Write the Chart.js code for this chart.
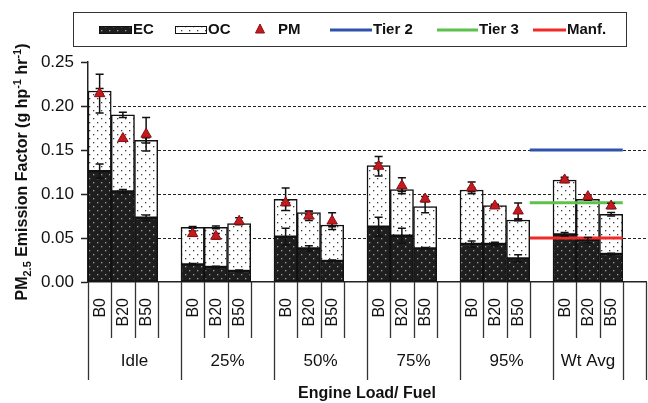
<!DOCTYPE html>
<html>
<head>
<meta charset="utf-8">
<script src="https://cdn.jsdelivr.net/npm/chart.js@4.4.1/dist/chart.umd.min.js"></script>
<style>
  html, body { margin: 0; padding: 0; background: #fff; }
  #wrap { width: 648px; height: 403px; position: relative; }
</style>
</head>
<body>
<div id="wrap"><canvas id="c"></canvas></div>
<script>
// Engine load groups and fuel blends
const groups = ['Idle', '25%', '50%', '75%', '95%', 'Wt Avg'];
const fuels = ['B0', 'B20', 'B50'];

// Emission factors (g hp-1 hr-1), three blends per load group
const ecValues = [0.126, 0.103, 0.073,  0.020, 0.017, 0.0125,  0.0515, 0.0383, 0.0239,
                  0.0629, 0.0526, 0.0383,  0.0432, 0.0432, 0.0269,  0.0542, 0.0477, 0.0318];
const ecErrors = [0.008, 0.002, 0.003,  0.001, 0.001, 0.001,  0.0095, 0.003, 0.001,
                  0.0108, 0.0085, 0.001,  0.0034, 0.002, 0.004,  0.002, 0.003, 0.001];
const ocValues = [0.091, 0.087, 0.088,  0.042, 0.045, 0.054,  0.0425, 0.0405, 0.0409,
                  0.0693, 0.0523, 0.0473,  0.0613, 0.0435, 0.0436,  0.0617, 0.0463, 0.0451];
const ocErrors = [0.003, 0.003, 0.003,  0.001, 0.0015, 0.001,  0.0127, 0.002, 0.002,
                  0.003, 0.002, 0.007,  0.002, 0.001, 0.001,  0.001, 0.001, 0.002];
const pmValues = [0.214, 0.163, 0.168,  0.055, 0.052, 0.069,  0.090, 0.075, 0.0693,
                  0.1315, 0.1094, 0.0943,  0.107, 0.0864, 0.0807,  0.116, 0.097, 0.0864];
const pmErrors = [0.022, 0.0, 0.019,  0.003, 0.003, 0.004,  0.003, 0.005, 0.0095,
                  0.011, 0.009, 0.003,  0.0066, 0.002, 0.009,  0.003, 0.002, 0.003];

// Emission standards shown across the weighted-average group
const standards = [
  { label: 'Tier 2', value: 0.15, color: '#2f52ab' },
  { label: 'Tier 3', value: 0.09, color: '#5cc24c' },
  { label: 'Manf.', value: 0.05, color: '#ef2b27' }
];

const yTicks = [0, 0.05, 0.10, 0.15, 0.20, 0.25];

// Each group takes four category slots: three blends and one empty spacer
const SLOTS = fuels.length + 1;
function spread(arr) {
  const out = [];
  groups.forEach((g, gi) => {
    fuels.forEach((f, fi) => out.push(arr[gi * fuels.length + fi]));
    out.push(null);
  });
  return out;
}
const labels = [];
groups.forEach(() => { fuels.forEach(f => labels.push(f)); labels.push(''); });

// Standards span from the spacer after 95% to the end of the Wt Avg blends
const spanFirst = SLOTS * groups.indexOf('95%') + fuels.length;
const spanLast = SLOTS * groups.indexOf('Wt Avg') + fuels.length - 1;

// Stippled fills
function makePattern(bg, dot) {
  const c = document.createElement('canvas');
  c.width = 8; c.height = 8;
  const g = c.getContext('2d');
  g.fillStyle = bg; g.fillRect(0, 0, 8, 8);
  g.fillStyle = dot;
  g.fillRect(1, 2, 1.3, 1.3);
  g.fillRect(5, 6, 1.3, 1.3);
  return g.createPattern(c, 'repeat');
}
const ecFill = makePattern('#1e1e1e', '#a0a0a0');
const ocFill = makePattern('#ffffff', '#3a3a3a');

const FONT = '"Liberation Sans", Arial, Helvetica, sans-serif';
Chart.defaults.font.family = FONT;
Chart.defaults.color = '#111';

const ecData = spread(ecValues), ecErr = spread(ecErrors);
const ocData = spread(ocValues), ocErr = spread(ocErrors);
const pmData = spread(pmValues), pmErr = spread(pmErrors);

// Dashed horizontal guides behind the bars
const guides = {
  id: 'guides',
  beforeDatasetsDraw(chart) {
    const { ctx, chartArea: a, scales: { y } } = chart;
    ctx.save();
    ctx.strokeStyle = '#222';
    ctx.lineWidth = 1;
    ctx.setLineDash([3, 2]);
    yTicks.forEach(v => {
      if (v <= y.min || v >= y.max) return;
      const py = Math.round(y.getPixelForValue(v)) + 0.5;
      ctx.beginPath(); ctx.moveTo(a.left, py); ctx.lineTo(a.right, py); ctx.stroke();
    });
    ctx.restore();
  }
};

// Standard lines, then error bars for EC, EC+OC total and PM (under the PM markers)
const overlays = {
  id: 'overlays',
  beforeDatasetDraw(chart, args) {
    if (args.meta.type !== 'line') return;
    const { ctx, scales: { x, y } } = chart;
    const slot = x.getPixelForValue(1) - x.getPixelForValue(0);
    ctx.save();
    const x0 = x.getPixelForValue(spanFirst) - slot / 2;
    const x1 = x.getPixelForValue(spanLast) + slot / 2;
    ctx.lineWidth = 3;
    standards.forEach(s => {
      const py = y.getPixelForValue(s.value);
      ctx.strokeStyle = s.color;
      ctx.beginPath(); ctx.moveTo(x0, py); ctx.lineTo(x1, py); ctx.stroke();
    });

    ctx.strokeStyle = '#111';
    ctx.lineWidth = 1.5;
    const draw = (px, v, e) => {
      if (v == null || !e) return;
      const t = y.getPixelForValue(v + e), b = y.getPixelForValue(v - e);
      ctx.beginPath();
      ctx.moveTo(px, t); ctx.lineTo(px, b);
      ctx.moveTo(px - 4, t); ctx.lineTo(px + 4, t);
      ctx.moveTo(px - 4, b); ctx.lineTo(px + 4, b);
      ctx.stroke();
    };
    labels.forEach((l, i) => {
      if (ecData[i] == null) return;
      const px = x.getPixelForValue(i);
      draw(px, ecData[i], ecErr[i]);
      draw(px, ecData[i] + ocData[i], ocErr[i]);
      draw(px, pmData[i], pmErr[i]);
    });
    ctx.restore();
  }
};

// Two-level category axis, axis titles and legend box
const decor = {
  id: 'decor',
  afterDraw(chart) {
    const { ctx, chartArea: a, scales: { x } } = chart;
    const slot = x.getPixelForValue(1) - x.getPixelForValue(0);
    const last = groups.length - 1;
    // slot range covered by each group label (the final group closes after its blends)
    const spans = groups.map((g, gi) => [gi * SLOTS, gi * SLOTS + (gi === last ? fuels.length : SLOTS)]);
    const longAt = new Set([labels.length]);
    spans.forEach(([s, e]) => { longAt.add(s); longAt.add(e); });
    ctx.save();
    // separators
    ctx.strokeStyle = '#333';
    ctx.lineWidth = 1.3;
    for (let i = 0; i <= labels.length; i++) {
      const bx = Math.round(a.left + i * slot) + 0.5;
      const len = longAt.has(i) ? 98 : 56;
      ctx.beginPath(); ctx.moveTo(bx, a.bottom); ctx.lineTo(bx, a.bottom + len); ctx.stroke();
    }
    // blend labels
    ctx.fillStyle = '#111';
    ctx.font = '16px ' + FONT;
    labels.forEach((l, i) => {
      if (!l) return;
      ctx.save();
      ctx.translate(x.getPixelForValue(i) + 0.5, a.bottom + 16);
      ctx.rotate(-Math.PI / 2);
      ctx.textAlign = 'right';
      ctx.textBaseline = 'middle';
      ctx.fillText(l, 0, 0);
      ctx.restore();
    });
    // group labels
    ctx.font = '17px ' + FONT;
    ctx.textAlign = 'center';
    ctx.textBaseline = 'middle';
    groups.forEach((g, gi) => {
      const [s, e] = spans[gi];
      ctx.fillText(g, a.left + (s + e) / 2 * slot, a.bottom + 79);
    });
    // x title
    ctx.font = 'bold 16px ' + FONT;
    ctx.fillText('Engine Load/ Fuel', (a.left + a.right) / 2, 394);

    // y title with subscript / superscripts
    const parts = [
      { t: 'PM', s: 16, dy: 0 },
      { t: '2.5', s: 11, dy: 4 },
      { t: ' Emission Factor (g hp', s: 16, dy: 0 },
      { t: '-1', s: 11, dy: -6 },
      { t: ' hr', s: 16, dy: 0 },
      { t: '-1', s: 11, dy: -6 },
      { t: ')', s: 16, dy: 0 }
    ];
    let total = 0;
    parts.forEach(p => { ctx.font = 'bold ' + p.s + 'px ' + FONT; p.w = ctx.measureText(p.t).width; total += p.w; });
    ctx.save();
    ctx.translate(27, (a.top + a.bottom) / 2);
    ctx.rotate(-Math.PI / 2);
    ctx.textAlign = 'left';
    ctx.textBaseline = 'alphabetic';
    let cx = -total / 2;
    parts.forEach(p => {
      ctx.font = 'bold ' + p.s + 'px ' + FONT;
      ctx.fillText(p.t, cx, p.dy);
      cx += p.w;
    });
    ctx.restore();

    // legend
    ctx.fillStyle = '#fff';
    ctx.fillRect(73, 12, 553, 34);
    ctx.strokeStyle = '#333';
    ctx.lineWidth = 1;
    ctx.strokeRect(73.5, 12.5, 553, 34);
    const cy = 30;
    ctx.font = 'bold 15px ' + FONT;
    ctx.textAlign = 'left';
    ctx.textBaseline = 'middle';
    // EC
    ctx.fillStyle = ecFill; ctx.fillRect(99, 26, 33, 8);
    ctx.strokeStyle = '#111'; ctx.strokeRect(99.5, 26.5, 32, 7);
    ctx.fillStyle = '#111'; ctx.fillText('EC', 133, cy);
    // OC
    ctx.fillStyle = ocFill; ctx.fillRect(175, 26, 32, 8);
    ctx.strokeStyle = '#111'; ctx.strokeRect(175.5, 26.5, 31, 7);
    ctx.fillStyle = '#111'; ctx.fillText('OC', 208, cy);
    // PM
    ctx.fillStyle = '#c41a1f'; ctx.strokeStyle = '#8a0f12';
    ctx.beginPath(); ctx.moveTo(260, 24); ctx.lineTo(264.5, 33); ctx.lineTo(255.5, 33); ctx.closePath();
    ctx.fill(); ctx.stroke();
    ctx.fillStyle = '#111'; ctx.fillText('PM', 278, cy);
    // standards
    const spots = [[330, 372], [437, 478], [533, 566]];
    standards.forEach((s, k) => {
      const [l0, l1] = spots[k];
      ctx.strokeStyle = s.color; ctx.lineWidth = 3;
      ctx.beginPath(); ctx.moveTo(l0, cy); ctx.lineTo(l1, cy); ctx.stroke();
      ctx.fillStyle = '#111'; ctx.fillText(s.label, l1 + 1, cy);
    });
    ctx.restore();
  }
};

new Chart(document.getElementById('c'), {
  type: 'bar',
  data: {
    labels: labels,
    datasets: [
      {
        type: 'line', label: 'PM', data: pmData, stack: 'pm',
        showLine: false, pointStyle: 'triangle', pointRadius: 6, pointHoverRadius: 6,
        backgroundColor: '#c41a1f', borderColor: '#8a0f12', borderWidth: 1, order: 0
      },
      {
        label: 'EC', data: ecData, stack: 's', backgroundColor: ecFill, grouped: false,
        borderColor: '#111', borderWidth: 1.5, borderSkipped: false, order: 2,
        barPercentage: 1, categoryPercentage: 1
      },
      {
        label: 'OC', data: ocData, stack: 's', backgroundColor: ocFill, grouped: false,
        borderColor: '#111', borderWidth: 1.5, borderSkipped: false, order: 2,
        barPercentage: 1, categoryPercentage: 1
      }
    ]
  },
  options: {
    responsive: true,
    maintainAspectRatio: false,
    animation: false,
    events: [],
    layout: { autoPadding: false, padding: { top: 62, right: 2, left: 0, bottom: 0 } },
    plugins: { legend: { display: false }, tooltip: { enabled: false } },
    scales: {
      x: {
        type: 'category', stacked: true, offset: true,
        grid: { display: false },
        ticks: { display: false },
        border: { display: true, color: '#222', width: 1.5 },
        afterFit(s) { s.height = 121; s.paddingLeft = 0; s.paddingRight = 0; }
      },
      y: {
        stacked: true, min: 0, max: 0.25,
        afterBuildTicks(s) { s.ticks = yTicks.map(v => ({ value: v })); },
        ticks: {
          font: { size: 17 }, color: '#111', padding: 7,
          callback: v => v.toFixed(2)
        },
        grid: { drawOnChartArea: false, drawTicks: true, tickLength: 7, tickColor: '#222', tickWidth: 1.5, color: '#222' },
        border: { display: true, color: '#222', width: 1.5 },
        afterFit(s) { s.width = 88; s.paddingTop = 0; s.paddingBottom = 0; }
      }
    }
  },
  plugins: [guides, overlays, decor]
});
</script>
</body>
</html>
